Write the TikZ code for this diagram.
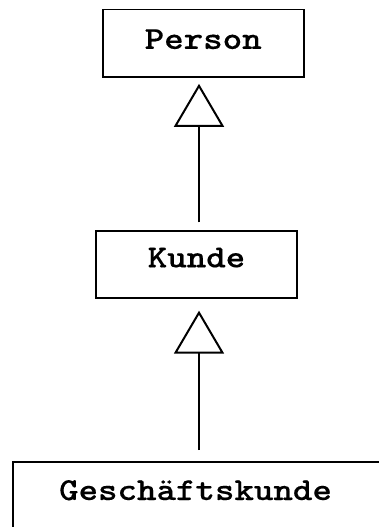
\documentclass[tikz,border=0pt]{standalone}
\usepackage{fontspec}
\newfontfamily\clsfont{lmmonolt10-bold}[Extension=.otf,FakeStretch=1.16,FakeBold=0.3]
\usetikzlibrary{arrows.meta}
\begin{document}
\begin{tikzpicture}[x=1pt,y=-1pt,
  cls/.style={draw,line width=1.8pt,rectangle,inner sep=0pt,text height=17pt,
    font=\clsfont\fontsize{32}{32}\selectfont},
  inherit/.style={line width=2.8pt,-{Triangle[open,length=43pt,width=50pt,line width=2pt]}}]
\useasboundingbox (0,0) rectangle (378,527);
\node[cls,minimum width=201pt,minimum height=67.5pt,text depth=5.6pt] (person) at (203.2,43.2) {Person};
\node[cls,minimum width=201pt,minimum height=67pt,text depth=11pt] (kunde) at (196.5,264.3) {Kunde};
\node[draw,line width=1.8pt,rectangle,minimum width=380pt,minimum height=80pt,anchor=north west] (gk) at (12,461) {};
\node[font=\clsfont\fontsize{32}{32}\selectfont,inner sep=0pt,text height=17pt,text depth=0pt] (gktext) at (195.5,491.5) {Geschäftskunde};
\draw[inherit,shorten <=7.5pt,shorten >=6pt] (kunde.north -| 199,0) -- (person.south -| 199,0);
\draw[inherit,shorten <=11pt,shorten >=12pt] (gk.north -| 199,0) -- (kunde.south -| 199,0);
\end{tikzpicture}
\end{document}
